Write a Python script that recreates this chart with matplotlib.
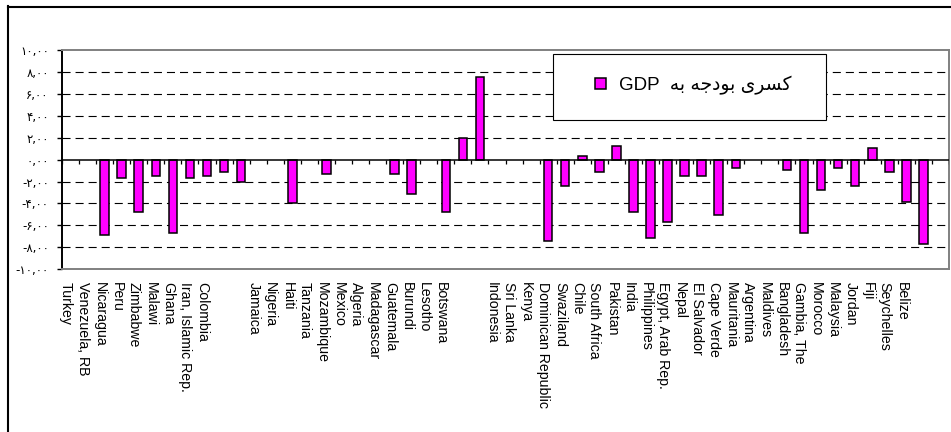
import numpy as np
import matplotlib
matplotlib.use("Agg")
import matplotlib.pyplot as plt
from matplotlib.lines import Line2D
from matplotlib.patches import Rectangle

plt.rcParams["lines.scale_dashes"] = False

# Budget deficit as share of GDP (%), one slot per category; blank names are unlabeled slots
countries = [
    "Turkey", "Venezuela, RB", "Nicaragua", "Peru", "Zimbabwe", "Malawi", "Ghana",
    "Iran, Islamic Rep.", "Colombia", "", "", "Jamaica", "Nigeria", "Haiti",
    "Tanzania", "Mozambique", "Mexico", "Algeria", "Madagascar", "Guatemala",
    "Burundi", "Lesotho", "Botswana", "", "", "Indonesia", "Sri Lanka", "Kenya",
    "Dominican Republic", "Swaziland", "Chile", "South Africa", "Pakistan", "India",
    "Philippines", "Egypt, Arab Rep.", "Nepal", "El Salvador", "Cape Verde",
    "Mauritania", "Argentina", "Maldives", "Bangladesh", "Gambia, The", "Morocco",
    "Malaysia", "Jordan", "Fiji", "Seychelles", "Belize", "", "",
]
deficit = [
    None, None, -6.9, -1.67, -4.76, -1.45, -6.73,
    -1.67, -1.45, -1.15, -2.03, None, None, -4.0,
    None, -1.3, None, None, None, -1.3,
    -3.12, None, -4.76, 1.97, 7.58, None, None, None,
    -7.45, -2.42, 0.3, -1.15, 1.27, -4.76,
    -7.12, -5.67, -1.45, -1.45, -5.09,
    -0.76, None, None, -0.97, -6.73, -2.79,
    -0.76, -2.36, 1.06, -1.15, -3.85, -7.67, None,
]
y_ticks = [-10, -8, -6, -4, -2, 0, 2, 4, 6, 8, 10]
series_label = "کسری بودجه به GDP"

# --- minimal Persian shaping (contextual forms + right-to-left word order) ---
FORMS = {  # isolated, final, initial, medial
    "ک": ("\uFB8E", "\uFB8F", "\uFB90", "\uFB91"),
    "س": ("\uFEB1", "\uFEB2", "\uFEB3", "\uFEB4"),
    "ر": ("\uFEAD", "\uFEAE", None, None),
    "ی": ("\uFBFC", "\uFBFD", "\uFBFE", "\uFBFF"),
    "ب": ("\uFE8F", "\uFE90", "\uFE91", "\uFE92"),
    "و": ("\uFEED", "\uFEEE", None, None),
    "د": ("\uFEA9", "\uFEAA", None, None),
    "ج": ("\uFE9D", "\uFE9E", "\uFE9F", "\uFEA0"),
    "ه": ("\uFEE9", "\uFEEA", "\uFEEB", "\uFEEC"),
}


def _dual(ch):
    return ch in FORMS and FORMS[ch][2] is not None


def shape_word(word):
    if not any(c in FORMS for c in word):
        return word
    out = []
    for i, ch in enumerate(word):
        if ch not in FORMS:
            out.append(ch)
            continue
        prev_joins = i > 0 and _dual(word[i - 1])
        next_joins = _dual(ch) and i + 1 < len(word) and word[i + 1] in FORMS
        iso, fin, ini, med = FORMS[ch]
        if prev_joins and next_joins:
            out.append(med)
        elif prev_joins:
            out.append(fin)
        elif next_joins:
            out.append(ini)
        else:
            out.append(iso)
    return "".join(reversed(out))


def visual_rtl(text):
    words = text.split(" ")
    latin = [w for w in words if not any(c in FORMS for c in w)]
    farsi = [shape_word(w) for w in words if any(c in FORMS for c in w)]
    return " ".join(latin) + "  " + " ".join(reversed(farsi))


PERSIAN_DIGITS = str.maketrans("0123456789", "۰۱۲۳۴۵۶۷۸۹")


def persian_number(v):
    return f"{v:.2f}".replace(".", ",").translate(PERSIAN_DIGITS)


# --- figure ---
W, H = 951, 432
fig = plt.figure(figsize=(W / 100, H / 100), dpi=100)
fig.patch.set_facecolor("white")

left, right, top, bottom = 62, 949, 50.5, 269
ax = fig.add_axes([left / W, 1 - bottom / H, (right - left) / W, (bottom - top) / H])

n = len(countries)
x = np.arange(n)
heights = np.array([np.nan if v is None else v for v in deficit], dtype=float)

bars = ax.bar(x, heights, width=0.5, color="#FF00FF", edgecolor="black",
              linewidth=1.1, zorder=3)

ax.set_xlim(-0.5, n - 0.5)
ax.set_ylim(y_ticks[0], y_ticks[-1])

# dashed gridlines at inner y ticks
for v in y_ticks[1:-1]:
    if v != 0:
        ax.axhline(v, color="black", lw=0.8, ls=(0, (5.8, 3.6)), zorder=1)

# category axis at zero with tick marks between categories
ax.axhline(0, color="black", lw=1.1, zorder=4)
ax.vlines(np.arange(n + 1) - 0.5, -0.36, 0, color="black", lw=0.9, zorder=4)

ax.set_xticks([])
for i, name in enumerate(countries):
    if name:
        ax.annotate(name, xy=(i, 0), xycoords=("data", "axes fraction"),
                    xytext=(-3.5, -9.0), textcoords="offset points",
                    rotation=270, ha="center", va="top",
                    fontsize=10.2, family="Liberation Sans", color="black")

ax.set_yticks(y_ticks)
ax.set_yticklabels([persian_number(v) for v in y_ticks],
                   fontsize=8.5, family="DejaVu Sans")
ax.tick_params(axis="y", length=3.5, width=1.0, color="black", pad=6)

for side in ("top", "right", "bottom"):
    ax.spines[side].set_color("#808080")
    ax.spines[side].set_linewidth(1.4)
ax.spines["left"].set_color("black")
ax.spines["left"].set_linewidth(1.4)

# legend box
lx0, lx1, ly0, ly1 = 553, 826, 54, 120
frame = Rectangle((lx0 / W, 1 - ly1 / H), (lx1 - lx0) / W, (ly1 - ly0) / H,
                  transform=fig.transFigure, facecolor="white",
                  edgecolor="black", linewidth=0.8, zorder=5.5)
ax.add_patch(frame)
leg = ax.legend([bars], [visual_rtl(series_label)], loc="center",
                bbox_to_anchor=((lx0 + lx1) / 2 / W + 0.004, 1 - (ly0 + ly1) / 2 / H + 0.004),
                bbox_transform=fig.transFigure, frameon=False,
                handlelength=0.55, handleheight=0.6, handletextpad=0.7,
                prop={"family": ["Liberation Sans", "DejaVu Sans"], "size": 13.5})
leg.set_zorder(6)

# outer chart border (left and top edges)
fig.add_artist(Line2D([7.5 / W, 7.5 / W], [0, 1 - 6 / H], transform=fig.transFigure,
                      color="black", lw=1.5))
fig.add_artist(Line2D([7.5 / W, 1], [1 - 6.5 / H, 1 - 6.5 / H], transform=fig.transFigure,
                      color="black", lw=1.5))

fig.savefig("out.png", dpi=100)
